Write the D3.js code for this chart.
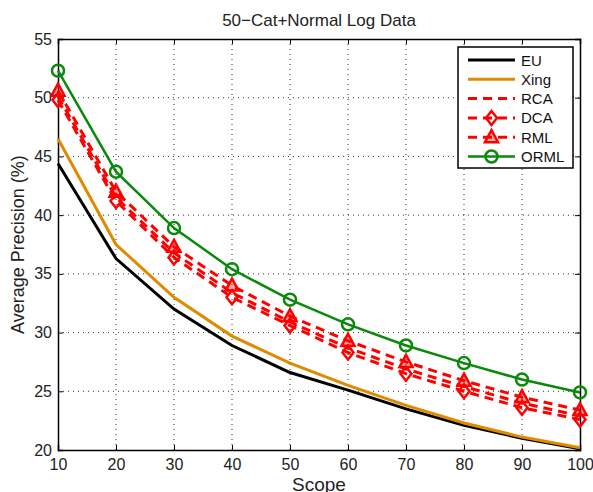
<!DOCTYPE html>
<html>
<head>
<meta charset="utf-8">
<script src="https://cdn.jsdelivr.net/npm/d3@7"></script>
<style>
  body { margin: 0; background: #fff; }
  svg { display: block; font-family: "Liberation Sans", Arial, sans-serif; }
</style>
</head>
<body>
<div id="chart"></div>
<script>
// data
var scopes = [10, 20, 30, 40, 50, 60, 70, 80, 90, 100];
var euVals   = [44.4, 36.3, 32.0, 28.9, 26.6, 25.1, 23.5, 22.1, 21.0, 20.1];
var xingVals = [46.5, 37.5, 33.0, 29.7, 27.4, 25.5, 23.8, 22.3, 21.1, 20.2];
var rcaVals  = [50.1, 41.5, 36.8, 33.4, 30.9, 28.7, 26.9, 25.4, 24.0, 22.9];
var dcaVals  = [49.8, 41.2, 36.4, 33.0, 30.6, 28.3, 26.5, 25.0, 23.6, 22.6];
var rmlVals  = [50.6, 42.0, 37.3, 34.0, 31.4, 29.3, 27.5, 25.9, 24.5, 23.4];
var ormlVals = [52.3, 43.7, 38.9, 35.4, 32.8, 30.7, 28.9, 27.4, 26.0, 24.9];
var xTicks = [10, 20, 30, 40, 50, 60, 70, 80, 90, 100];
var yTicks = [20, 25, 30, 35, 40, 45, 50, 55];
var seriesNames = ["EU", "Xing", "RCA", "DCA", "RML", "ORML"];

var W = 593, H = 492;
var margin = { top: 39, right: 13, bottom: 42, left: 58 };
var width = W - margin.left - margin.right,
    height = H - margin.top - margin.bottom;

var svg = d3.select("#chart").append("svg")
            .attr("width", W)
            .attr("height", H)
            .append("g")
            .attr("transform", "translate(" + margin.left + "," + margin.top + ")");

// SCALES
var x = d3.scaleLinear().domain([10, 100]).range([0, width]);
var y = d3.scaleLinear().domain([20, 55]).range([height, 0]);

// grid
svg.append("g").selectAll("line")
   .data(xTicks.slice(1, -1))
   .enter().append("line")
   .attr("x1", d => x(d)).attr("x2", d => x(d))
   .attr("y1", 0).attr("y2", height)
   .attr("stroke", "#333").attr("stroke-width", 1)
   .attr("stroke-dasharray", "1,4");
svg.append("g").selectAll("line")
   .data(yTicks.slice(1, -1))
   .enter().append("line")
   .attr("y1", d => y(d)).attr("y2", d => y(d))
   .attr("x1", 0).attr("x2", width)
   .attr("stroke", "#333").attr("stroke-width", 1)
   .attr("stroke-dasharray", "1,4");

// axes (ticks inside, box on)
var xAxis = d3.axisBottom(x).tickValues(xTicks).tickSize(-5).tickPadding(9);
var yAxis = d3.axisLeft(y).tickValues(yTicks).tickSize(-5).tickPadding(6);

var gX = svg.append("g")
            .attr("transform", "translate(0," + height + ")")
            .call(xAxis);
var gY = svg.append("g").call(yAxis);
svg.append("g").call(d3.axisTop(x).tickValues(xTicks).tickSize(-5).tickFormat(""));
svg.append("g").attr("transform", "translate(" + width + ",0)")
   .call(d3.axisRight(y).tickValues(yTicks).tickSize(-5).tickFormat(""));

svg.selectAll(".domain").attr("stroke", "#000").attr("stroke-width", 1.5);
svg.selectAll(".tick line").attr("stroke", "#000");
svg.selectAll(".tick text").attr("font-size", 16).attr("fill", "#222")
   .attr("font-family", "Liberation Sans, Arial, sans-serif");

// labels
svg.append("text")
   .attr("x", width / 2).attr("y", -13)
   .attr("text-anchor", "middle")
   .attr("font-size", 17).attr("fill", "#222")
   .text("50\u2212Cat+Normal Log Data");

svg.append("text")
   .attr("x", width / 2).attr("y", height + 41)
   .attr("text-anchor", "middle")
   .attr("font-size", 19).attr("fill", "#222")
   .text("Scope");

svg.append("text")
   .attr("transform", "translate(-34," + (height / 2) + ") rotate(-90)")
   .attr("text-anchor", "middle")
   .attr("font-size", 18).attr("fill", "#222")
   .text("Average Precision (%)");

// series
var series = [
  { name: seriesNames[0], vals: euVals,   color: "#000",    dash: null,  width: 3,   marker: null },
  { name: seriesNames[1], vals: xingVals, color: "#e08a00", dash: null,  width: 3,   marker: null },
  { name: seriesNames[2], vals: rcaVals,  color: "#ff0000", dash: "9,6", width: 3,   marker: null },
  { name: seriesNames[3], vals: dcaVals,  color: "#ff0000", dash: "9,6", width: 3,   marker: "diamond" },
  { name: seriesNames[4], vals: rmlVals,  color: "#ff0000", dash: "9,6", width: 3,   marker: "triangle" },
  { name: seriesNames[5], vals: ormlVals, color: "#0a8a0a", dash: null,  width: 2.5, marker: "circle" }
];

var line = d3.line()
             .x(d => x(d[0]))
             .y(d => y(d[1]));

function drawMarker(g, type, color, cx, cy) {
  if (type === "circle") {
    g.append("circle").attr("cx", cx).attr("cy", cy).attr("r", 6)
     .attr("fill", "none").attr("stroke", color).attr("stroke-width", 2.5);
  } else if (type === "diamond") {
    g.append("path")
     .attr("d", "M" + cx + "," + (cy - 7) + "L" + (cx + 5.5) + "," + cy + "L" + cx + "," + (cy + 7) + "L" + (cx - 5.5) + "," + cy + "Z")
     .attr("fill", "none").attr("stroke", color).attr("stroke-width", 2.5);
  } else if (type === "triangle") {
    g.append("path")
     .attr("d", "M" + cx + "," + (cy - 7) + "L" + (cx + 6.5) + "," + (cy + 5) + "L" + (cx - 6.5) + "," + (cy + 5) + "Z")
     .attr("fill", color).attr("fill-opacity", 0.35).attr("stroke", color).attr("stroke-width", 2.5);
  }
}

series.forEach(function(s) {
  var pts = scopes.map((d, i) => [d, s.vals[i]]);
  svg.append("path")
     .datum(pts)
     .attr("d", line)
     .attr("fill", "none")
     .attr("stroke", s.color)
     .attr("stroke-width", s.width)
     .attr("stroke-dasharray", s.dash);
  if (s.marker) {
    var g = svg.append("g");
    pts.forEach(p => drawMarker(g, s.marker, s.color, x(p[0]), y(p[1])));
  }
});

// legend
var lg = svg.append("g").attr("transform", "translate(" + (width - 122) + ",8)");
lg.append("rect")
  .attr("width", 115).attr("height", 121)
  .attr("fill", "#fff").attr("stroke", "#000").attr("stroke-width", 1.5);
series.forEach(function(s, i) {
  var ly = 13 + i * 19.3;
  lg.append("line")
    .attr("x1", 10).attr("x2", 57).attr("y1", ly).attr("y2", ly)
    .attr("stroke", s.color).attr("stroke-width", s.width)
    .attr("stroke-dasharray", s.dash);
  if (s.marker) drawMarker(lg, s.marker, s.color, 33.5, ly);
  lg.append("text")
    .attr("x", 63).attr("y", ly + 5.5)
    .attr("font-size", 15).attr("fill", "#111")
    .text(s.name);
});
</script>
</body>
</html>
